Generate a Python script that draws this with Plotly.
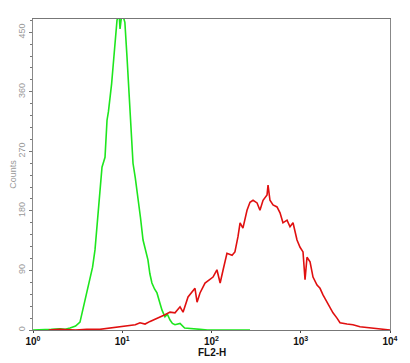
import plotly.graph_objects as go

# Green histogram (control)
green_fl2 = [1.0, 1.3, 1.6, 2.01, 2.3, 2.6, 3.0, 3.36, 3.73, 4.0,
             4.35, 4.65, 4.95, 5.15, 5.35, 5.65, 5.93, 6.41, 6.75, 7.0,
             7.29, 7.6, 7.88, 8.29, 8.73, 9.2, 9.44, 9.94, 10.7, 11.3,
             12.2, 13.2, 14.0, 15.0, 16.0, 17.1, 18.2, 19.4, 20.4, 21.5,
             23.0, 24.5, 26.5, 27.9, 30.1, 32.0, 34.3, 36.5, 39.0, 44.4,
             50.0, 57.4, 65.0, 74.3, 90, 125, 180, 270]
green_counts = [0, 0, 1, 2, 1, 3, 6, 12, 38, 55,
                80, 95, 121, 150, 181, 215, 246, 261, 317, 330,
                348, 372, 397, 434, 468, 480, 455, 480, 465, 413,
                332, 252, 230, 201, 170, 136, 120, 106, 85, 71,
                62, 56, 40, 30, 20, 24, 15, 10, 8, 10,
                3, 2, 1, 1, 0, 0, 1, 0]

# Red histogram (stained)
red_fl2 = [1.5, 2.0, 3.0, 4.0, 5.63, 7.29, 9.0, 10.7, 12.5, 14.0,
           15.8, 18.0, 20.5, 23.3, 26.5, 30.1, 34.3, 39.0, 44.4, 48.0,
           54.6, 60.5, 65.3, 68.9, 74.3, 84.6, 96.2, 104, 115, 125,
           135, 149, 170, 183, 198, 209, 225, 250, 270, 292,
           324, 349, 378, 419, 430, 452, 489, 542, 586, 632,
           702, 758, 819, 908, 982, 1060, 1117, 1175, 1271, 1372,
           1521, 1644, 1775, 1968, 2127, 2297, 2547, 2754, 3296, 3846,
           4610, 5970, 8350, 10000]
red_counts = [0, 1, 0, 1, 1, 3, 4, 5, 7, 8,
              11, 9, 13, 16, 20, 23, 27, 26, 35, 27,
              50, 57, 63, 42, 56, 71, 76, 80, 91, 71,
              91, 116, 113, 118, 141, 162, 154, 181, 193, 196,
              192, 181, 196, 204, 219, 196, 189, 186, 177, 162,
              166, 156, 162, 136, 125, 118, 76, 110, 103, 80,
              68, 63, 53, 42, 35, 26, 18, 11, 9, 8,
              5, 3, 1, 0]

y_ticks = [0, 90, 180, 270, 360, 450]
x_ticks = [1, 10, 100, 1000, 10000]
x_tick_text = ["<b>10<sup>0</sup></b>", "<b>10<sup>1</sup></b>", "<b>10<sup>2</sup></b>",
               "<b>10<sup>3</sup></b>", "<b>10<sup>4</sup></b>"]

fig = go.Figure()
fig.add_trace(go.Scatter(x=green_fl2, y=green_counts, mode="lines",
                         line=dict(color="#1ee61e", width=1.6), showlegend=False))
fig.add_trace(go.Scatter(x=red_fl2, y=red_counts, mode="lines",
                         line=dict(color="#e01010", width=1.6), showlegend=False))

# page body has an 8px margin; figure sized so the plot lands where the reference's does
fig.update_layout(
    width=402, height=355,
    margin=dict(l=25, r=20, t=11, b=33),
    paper_bgcolor="white", plot_bgcolor="white",
    font=dict(family="Liberation Sans, Arial, sans-serif"),
    xaxis=dict(type="log", range=[0, 4], tickvals=x_ticks, ticktext=x_tick_text,
               tickfont=dict(size=10, color="#111"), ticks="outside", ticklen=2,
               showgrid=False, zeroline=False, showline=True, linecolor="#777",
               linewidth=1.2, mirror=True, automargin=False),
    yaxis=dict(range=[0, 470], tickvals=y_ticks, tickangle=-90,
               tickfont=dict(size=9, color="#999"), ticks="outside", ticklen=3,
               tickcolor="#777",
               minor=dict(dtick=18, ticks="outside", ticklen=2, tickcolor="#777"),
               showgrid=False, zeroline=False, showline=True, linecolor="#888",
               linewidth=1.2, mirror=True, automargin=False,
               title=dict(text="Counts", font=dict(size=9, color="#999"), standoff=2)),
    annotations=[dict(text="<b>FL2-H</b>", xref="paper", yref="paper", x=0.5, y=-0.072,
                      xanchor="center", yanchor="middle", showarrow=False,
                      font=dict(size=10, color="#111"))],
)

fig.write_html("out.html")
